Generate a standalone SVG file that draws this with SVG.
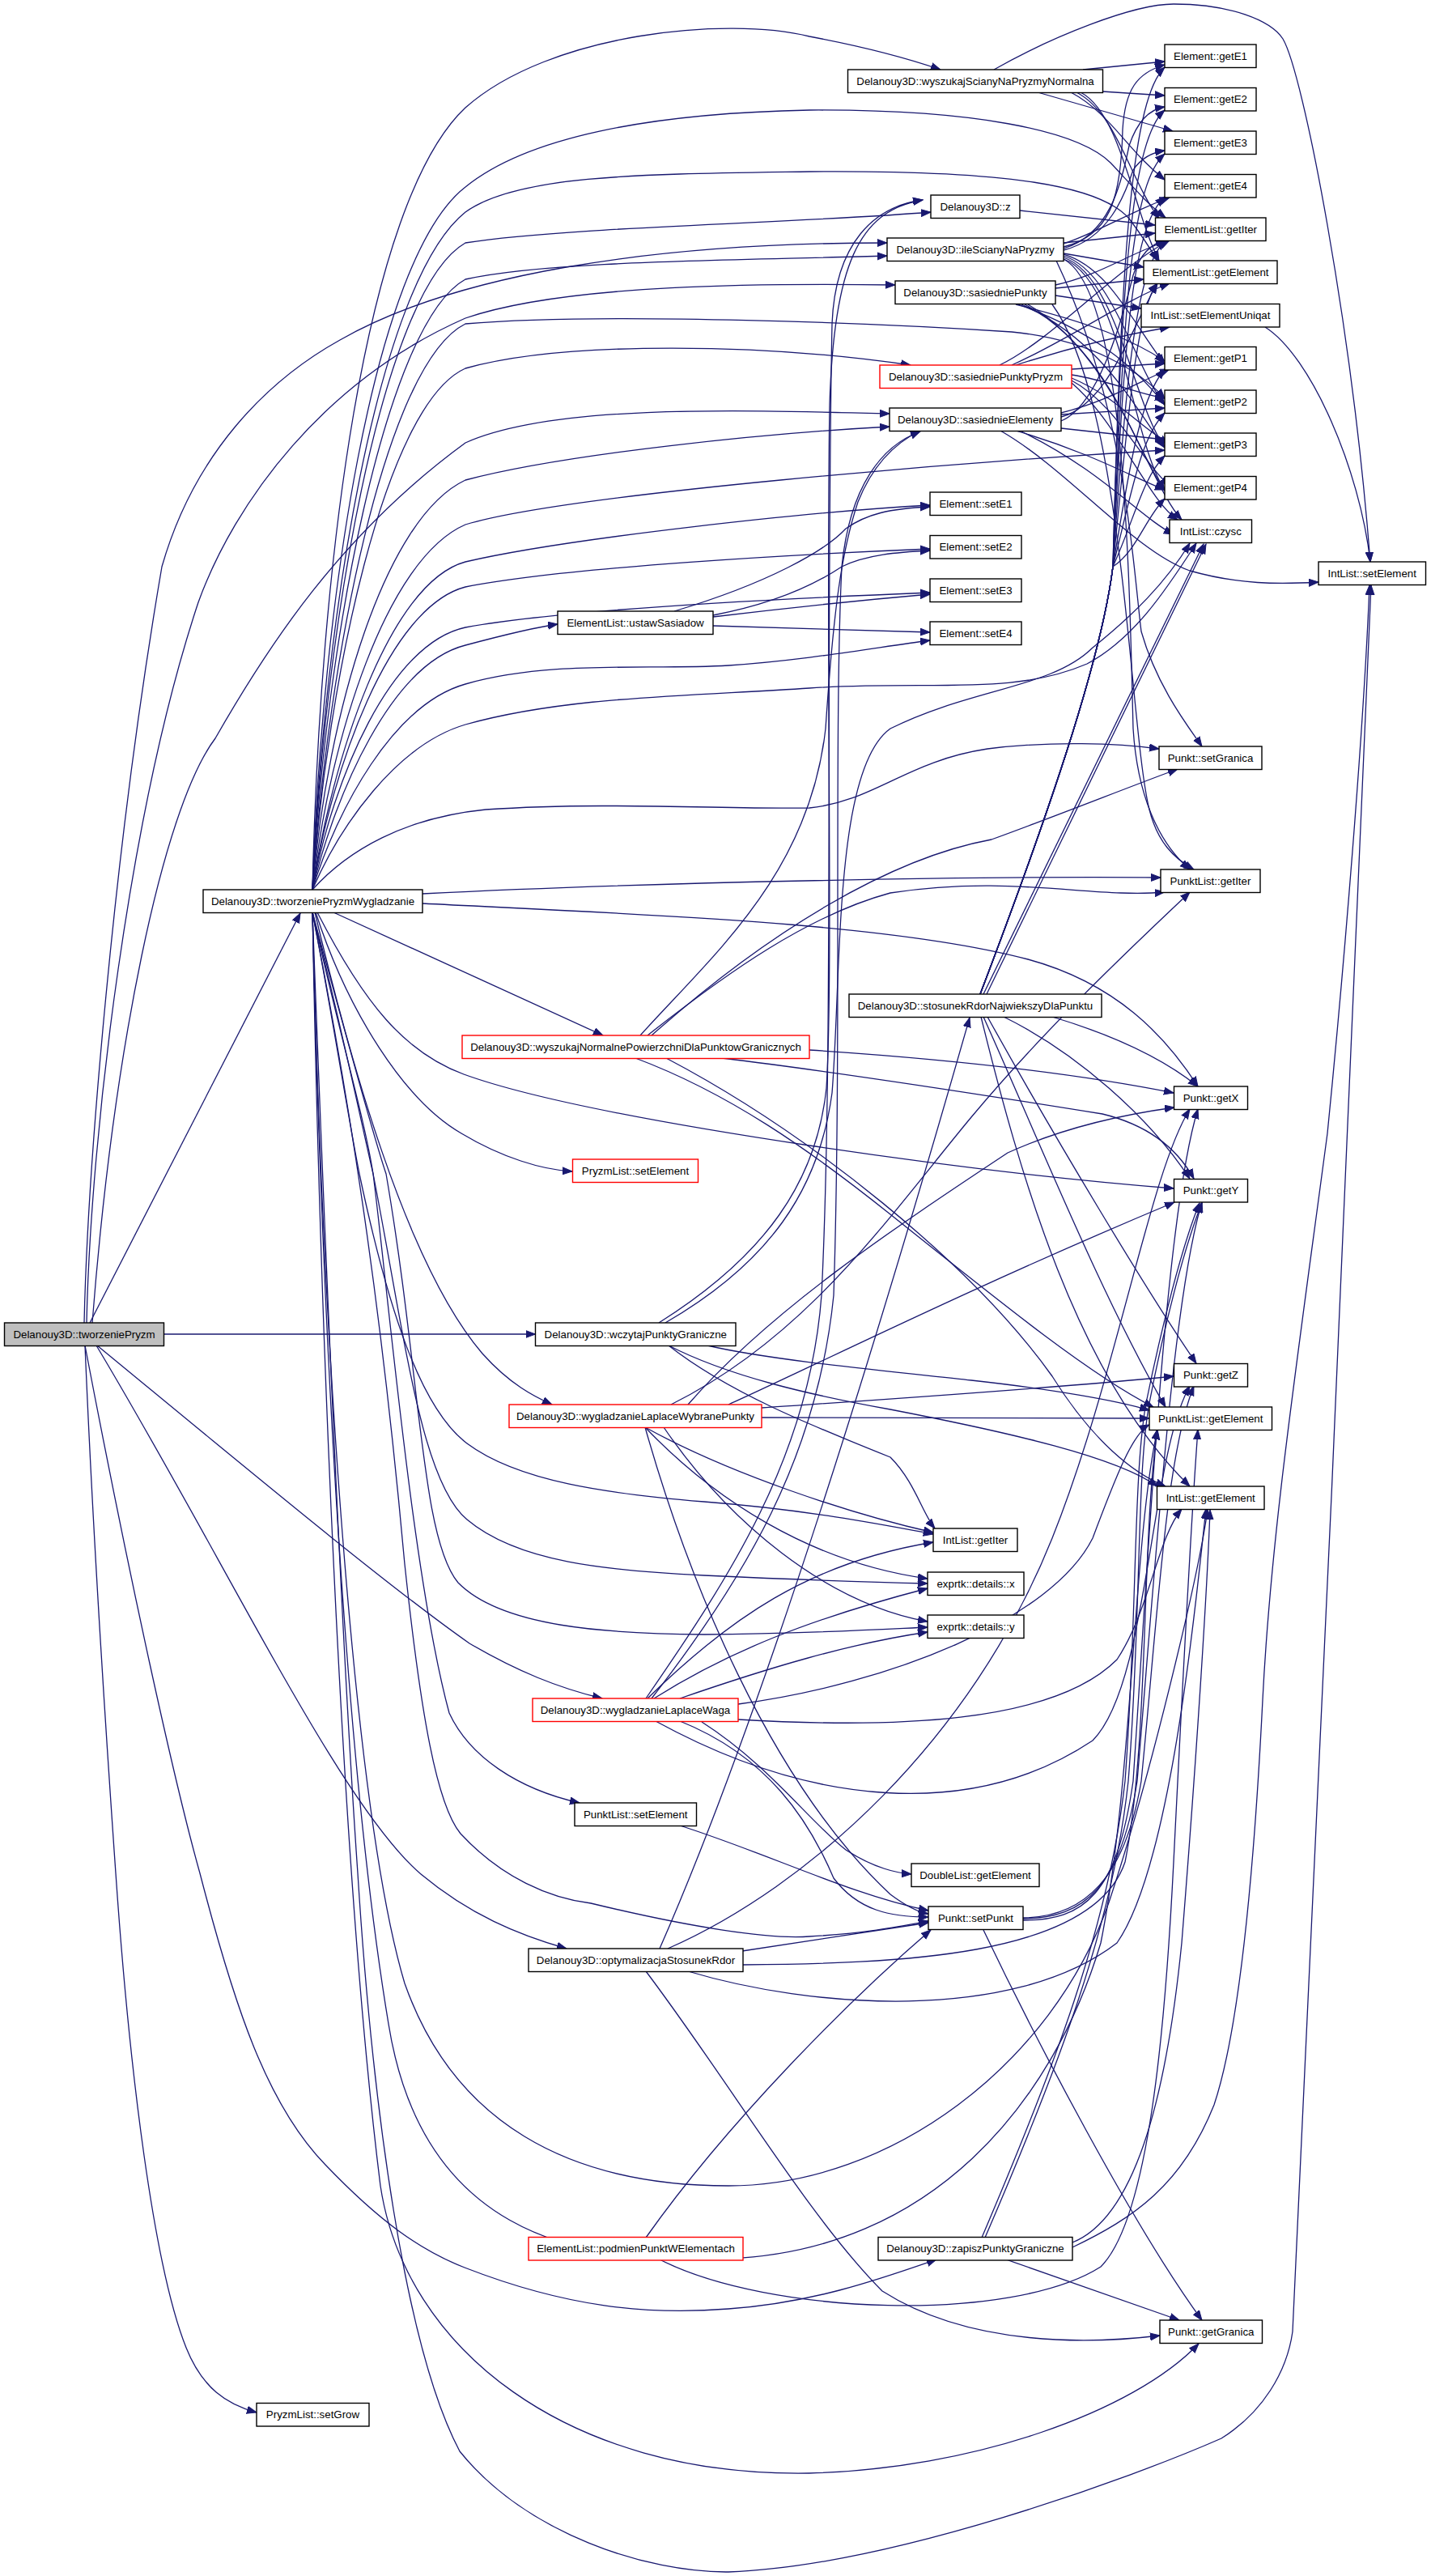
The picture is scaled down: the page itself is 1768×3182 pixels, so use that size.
<svg xmlns="http://www.w3.org/2000/svg" width="1768" height="3182" viewBox="0 0 1768 3182">
<defs>
<marker id="a" markerWidth="14" markerHeight="11" refX="12" refY="5" orient="auto" markerUnits="userSpaceOnUse"><path d="M0,0.5 L12,5 L0,9.5 z" fill="#191970" stroke="#191970" stroke-width="1"/></marker>
<style>
.e{fill:none;stroke:#191970;stroke-width:1.3;marker-end:url(#a)}
.b{fill:#fff;stroke:#000;stroke-width:1.4}
.r{fill:#fff;stroke:#ff0000;stroke-width:1.4}
.g{fill:#bfbfbf;stroke:#000;stroke-width:1.4}
text{font-family:"Liberation Sans",Arial,sans-serif;font-size:13.3px;text-anchor:middle;fill:#000}
</style>
</defs>
<rect width="1768" height="3182" fill="#fff"/>
<g id="edges">
<!-- root -->
<path class="e" d="M111,1634 L371,1128"/>
<path class="e" d="M104,1634 C108,1450 140,1050 200,700 C240,560 330,470 420,420 C560,340 800,300 1096,300"/>
<path class="e" d="M107,1634 C112,1400 160,1000 245,744 C290,620 400,470 575,393 C700,350 950,350 1106,352"/>
<path class="e" d="M114,1634 C140,1300 200,1000 266,912 C330,800 420,660 575,547 C680,500 900,506 1099,511"/>
<path class="e" d="M202.5,1648 L661.5,1648"/>
<path class="e" d="M120,1662 C300,1810 480,1960 580,2030 C640,2065 690,2085 744,2098"/>
<path class="e" d="M119,1662 C280,1930 420,2230 520,2315 C580,2365 640,2390 700,2407"/>
<path class="e" d="M105,1662 C160,1950 215,2200 247,2314 C290,2480 330,2600 402,2674 C470,2745 520,2780 574,2801 C700,2850 800,2860 900,2852 C1000,2845 1080,2818 1157,2791"/>
<path class="e" d="M105,1662 C115,1900 135,2200 143,2314 C160,2560 190,2800 230,2900 C250,2950 280,2970 317,2980"/>
<!-- W up -->
<path class="e" d="M386,1099 C395,700 450,250 575,133 C680,40 900,20 1000,45 C1080,60 1130,75 1162,86"/>
<path class="e" d="M386,1099 C398,750 460,320 575,231 C650,170 800,140 1000,136 C1200,135 1330,160 1372,201 C1395,225 1415,250 1440,269"/>
<path class="e" d="M386,1099 C400,770 465,350 575,262 C640,215 800,215 1000,212 C1250,210 1360,230 1395,270 C1410,290 1420,305 1430,322"/>
<path class="e" d="M386,1099 C400,790 470,360 575,300 C700,280 1000,275 1150,262"/>
<path class="e" d="M386,1099 C402,800 475,400 575,345 C680,322 900,322 1096,316"/>
<path class="e" d="M386,1099 C405,820 475,450 575,400 C750,385 1100,400 1250,410 C1350,420 1410,460 1439,492"/>
<path class="e" d="M386,1099 C405,840 475,500 575,455 C700,420 950,425 1125,451"/>
<path class="e" d="M386,1099 C405,880 475,640 575,593 C700,560 950,535 1099,527"/>
<path class="e" d="M386,1099 C408,910 478,690 575,648 C700,610 1200,570 1439,556"/>
<path class="e" d="M386,1099 C410,940 480,720 575,694 C700,665 1000,632 1149,624"/>
<path class="e" d="M386,1099 C410,950 480,750 575,725 C700,700 1000,684 1149,678"/>
<path class="e" d="M386,1099 C412,960 482,795 575,775 C700,752 1000,738 1149,732"/>
<path class="e" d="M386,1099 C414,980 484,820 575,797 C620,785 660,775 689,771"/>
<path class="e" d="M386,1099 C416,1000 486,870 575,845 C680,815 800,828 900,822 C1000,815 1080,800 1149,791"/>
<path class="e" d="M386,1099 C420,1020 490,920 575,895 C700,860 850,860 1000,850 C1150,840 1250,860 1343,820 C1400,790 1440,730 1478,671"/>
<path class="e" d="M386,1099 C430,1050 500,1010 600,1000 C750,990 900,1000 1000,998 C1080,990 1120,940 1220,925 C1300,915 1380,918 1432,925"/>
<!-- W right / down -->
<path class="e" d="M522,1104 C800,1090 1200,1082 1434,1084"/>
<path class="e" d="M522,1116 C800,1130 1100,1140 1270,1185 C1380,1215 1440,1280 1480,1342"/>
<path class="e" d="M412,1127 L745,1279"/>
<path class="e" d="M390,1127 C430,1250 500,1360 570,1400 C620,1430 670,1445 707,1447"/>
<path class="e" d="M392,1127 C450,1240 500,1300 573,1327 C650,1355 800,1385 1000,1415 C1200,1445 1350,1460 1450,1468"/>
<path class="e" d="M389,1127 C430,1300 500,1560 596,1672 C630,1710 660,1725 682,1735"/>
<path class="e" d="M386,1127 C410,1250 430,1380 444,1450 C480,1620 520,1740 577,1783 C640,1830 750,1845 870,1855 C1000,1865 1100,1885 1153,1895"/>
<path class="e" d="M386,1127 C420,1260 445,1380 461,1450 C500,1650 520,1830 577,1877 C640,1930 750,1940 870,1946 C1000,1952 1100,1955 1146,1956"/>
<path class="e" d="M386,1127 C425,1270 460,1400 477,1450 C520,1700 520,1900 566,1955 C620,2010 750,2018 870,2019 C1000,2018 1100,2012 1146,2010"/>
<path class="e" d="M386,1127 C420,1280 450,1380 461,1450 C480,1600 510,1950 555,2116 C580,2170 640,2210 716,2227"/>
<path class="e" d="M386,1127 C430,1350 470,1600 500,1932 C520,2120 540,2230 569,2265 C620,2320 680,2345 730,2351 C850,2380 950,2396 1000,2392 C1070,2388 1110,2380 1147,2373"/>
<path class="e" d="M386,1127 C400,1500 420,2000 442,2314 C460,2600 500,2900 568,3028 C650,3130 800,3178 900,3177 C1100,3170 1400,3060 1509,3012 C1560,2980 1590,2930 1597,2880 C1620,2400 1680,1100 1694,723"/>
<path class="e" d="M386,1127 C395,1600 420,2300 470,2700 C500,2900 700,3060 1000,3055 C1200,3050 1400,2980 1481,2895"/>
<path class="e" d="M386,1127 C400,1700 430,2200 480,2500 C520,2750 700,2800 900,2790 C1150,2780 1300,2600 1360,2400 C1400,2200 1400,1900 1430,1766"/>
<path class="e" d="M386,1127 C400,1700 440,2250 500,2450 C560,2620 700,2700 900,2700 C1100,2700 1300,2550 1370,2350 C1420,2200 1480,1950 1492,1865"/>
<!-- S -->
<path class="e" d="M1338,86 L1439,76"/>
<path class="e" d="M1362,113 L1439,118"/>
<path class="e" d="M1282,114 L1449,162"/>
<path class="e" d="M1323,114 C1372,140 1392,185 1439,222"/>
<path class="e" d="M1330,114 C1380,140 1395,220 1432,270"/>
<path class="e" d="M1335,114 C1385,140 1400,260 1432,322"/>
<path class="e" d="M1228,86 C1300,45 1400,5 1450,5 C1520,5 1570,25 1585,48 C1610,90 1670,400 1693,694"/>
<!-- z -->
<path class="e" d="M1260,260 L1427,278"/>
<!-- I -->
<path class="e" d="M1314,305 C1370,290 1385,250 1387,160 C1390,110 1405,90 1439,80"/>
<path class="e" d="M1314,307 C1370,290 1385,230 1395,180 C1405,150 1420,135 1439,132"/>
<path class="e" d="M1314,309 C1370,295 1390,240 1400,210 C1410,195 1425,188 1439,186"/>
<path class="e" d="M1314,301 C1350,290 1400,260 1445,244"/>
<path class="e" d="M1314,300 L1427,288"/>
<path class="e" d="M1314,313 L1413,330"/>
<path class="e" d="M1314,314 C1370,330 1400,400 1439,450"/>
<path class="e" d="M1314,316 C1375,335 1400,450 1439,500"/>
<path class="e" d="M1314,318 C1380,340 1400,500 1439,552"/>
<path class="e" d="M1314,320 C1385,345 1400,550 1439,605"/>
<path class="e" d="M1314,320 C1390,360 1395,700 1400,900 C1405,980 1430,1040 1470,1074"/>
<path class="e" d="M1305,322 C1390,500 1400,700 1410,780 C1430,850 1470,900 1485,922"/>
<!-- SP -->
<path class="e" d="M1304,352 C1360,340 1400,310 1445,297"/>
<path class="e" d="M1304,356 L1413,345"/>
<path class="e" d="M1304,365 L1410,381"/>
<path class="e" d="M1255,376 C1350,400 1400,420 1439,446"/>
<path class="e" d="M1258,376 C1350,410 1400,450 1439,500"/>
<path class="e" d="M1262,376 C1360,420 1400,500 1439,553"/>
<path class="e" d="M1266,376 C1370,430 1405,560 1439,606"/>
<path class="e" d="M1270,376 C1380,440 1420,600 1460,642"/>
<path class="e" d="M1300,376 C1390,500 1395,900 1420,1000 C1430,1040 1450,1060 1475,1074"/>
<!-- SPP -->
<path class="e" d="M1235,451 C1300,420 1380,330 1445,297"/>
<path class="e" d="M1250,451 C1320,420 1390,370 1445,350"/>
<path class="e" d="M1255,451 C1320,430 1380,415 1445,404"/>
<path class="e" d="M1324,456 L1439,449"/>
<path class="e" d="M1324,463 C1370,470 1400,485 1439,492"/>
<path class="e" d="M1324,467 C1380,490 1410,530 1445,548"/>
<path class="e" d="M1324,470 C1380,500 1410,570 1445,600"/>
<path class="e" d="M1324,473 C1380,520 1420,620 1455,642"/>
<!-- SE -->
<path class="e" d="M1311,520 C1360,500 1390,380 1400,340 C1410,310 1425,300 1440,297"/>
<path class="e" d="M1311,515 C1370,500 1400,400 1430,350"/>
<path class="e" d="M1311,510 C1370,495 1410,470 1445,456"/>
<path class="e" d="M1311,512 L1439,504"/>
<path class="e" d="M1311,529 L1439,543"/>
<path class="e" d="M1255,532 C1350,560 1400,590 1439,605"/>
<path class="e" d="M1260,532 C1360,580 1410,640 1450,660"/>
<path class="e" d="M1236,532 C1320,580 1400,680 1470,705 C1530,722 1580,722 1629,719"/>
<!-- SEU -->
<path class="e" d="M1563,404 C1620,440 1680,580 1693,694"/>
<!-- U -->
<path class="e" d="M833,755 C950,720 1020,680 1045,653 C1070,635 1100,628 1149,626"/>
<path class="e" d="M881,760 C960,745 1010,720 1040,700 C1070,685 1110,682 1149,680"/>
<path class="e" d="M881,762 C980,750 1080,740 1149,734"/>
<path class="e" d="M881,773 L1149,781"/>
<!-- ST -->
<path class="e" d="M1211,1228 C1290,1020 1360,820 1375,700 C1385,300 1400,120 1439,83"/>
<path class="e" d="M1211,1228 C1290,1020 1360,820 1375,700 C1385,330 1400,170 1439,136"/>
<path class="e" d="M1211,1228 C1290,1020 1360,820 1375,700 C1388,360 1400,225 1439,190"/>
<path class="e" d="M1211,1228 C1290,1020 1360,820 1375,700 C1390,400 1400,280 1439,243"/>
<path class="e" d="M1211,1228 C1290,1020 1360,820 1375,700 C1392,450 1405,330 1440,297"/>
<path class="e" d="M1211,1228 C1290,1020 1360,820 1375,700 C1395,500 1405,380 1430,350"/>
<path class="e" d="M1211,1228 C1290,1020 1360,820 1375,700 C1398,560 1410,490 1439,456"/>
<path class="e" d="M1211,1228 C1290,1020 1360,820 1375,700 C1400,600 1410,540 1439,510"/>
<path class="e" d="M1211,1228 C1290,1020 1360,820 1375,700 C1402,640 1412,590 1439,563"/>
<path class="e" d="M1211,1228 C1290,1020 1360,820 1375,700 C1405,680 1415,640 1439,616"/>
<path class="e" d="M1215,1228 L1487,672"/>
<path class="e" d="M1219,1228 L1490,672"/>
<path class="e" d="M1300,1256 C1380,1280 1440,1310 1480,1342"/>
<path class="e" d="M1240,1256 C1330,1300 1420,1380 1470,1456"/>
<path class="e" d="M1220,1256 C1300,1400 1420,1600 1478,1684"/>
<path class="e" d="M1215,1256 C1280,1400 1360,1600 1440,1738"/>
<path class="e" d="M1212,1256 C1260,1450 1330,1700 1470,1836"/>
<!-- WN -->
<path class="e" d="M791,1279 C880,1180 1000,1080 1020,900 C1030,750 1040,680 1060,620 C1080,570 1110,545 1137,532"/>
<path class="e" d="M800,1279 C900,1200 1000,1130 1100,1103 C1250,1080 1350,1110 1439,1102"/>
<path class="e" d="M805,1279 C950,1150 1100,1060 1225,1037 C1300,1010 1400,970 1455,950"/>
<path class="e" d="M1000,1297 C1200,1310 1350,1330 1450,1350"/>
<path class="e" d="M892,1307 C1000,1320 1200,1350 1362,1376 C1420,1390 1455,1420 1475,1456"/>
<path class="e" d="M785,1307 C900,1350 1000,1420 1100,1500 C1250,1620 1350,1700 1425,1738"/>
<path class="e" d="M823,1307 C1000,1400 1200,1560 1300,1700 C1350,1780 1400,1820 1440,1836"/>
<!-- WC -->
<path class="e" d="M814,1634 C946,1551 1009,1459 1021,1344 C1030,1200 1020,800 1025,500 C1030,330 1060,260 1140,247"/>
<path class="e" d="M822,1634 C950,1560 1012,1470 1028,1350 C1040,1200 1030,950 1100,900 C1200,850 1300,850 1350,800 C1400,760 1440,720 1470,671"/>
<path class="e" d="M874,1662 C950,1680 1100,1694 1200,1705 C1300,1716 1380,1730 1420,1742"/>
<path class="e" d="M826,1662 C900,1700 1000,1723 1100,1741 C1250,1770 1380,1800 1430,1836"/>
<path class="e" d="M826,1662 C900,1720 1000,1760 1100,1800 C1130,1830 1140,1870 1155,1888"/>
<!-- WB -->
<path class="e" d="M829,1735 C1000,1650 1100,1500 1200,1380 C1300,1260 1420,1150 1470,1102"/>
<path class="e" d="M941,1739 C1100,1728 1300,1715 1450,1700"/>
<path class="e" d="M941,1751 L1420,1752"/>
<path class="e" d="M797,1763 C900,1820 1050,1870 1153,1893"/>
<path class="e" d="M797,1763 C880,1850 1000,1930 1146,1950"/>
<path class="e" d="M820,1763 C900,1880 1020,1980 1146,2003"/>
<path class="e" d="M797,1763 C850,1950 950,2200 1100,2340 C1120,2355 1135,2362 1147,2364"/>
<path class="e" d="M900,1735 C1000,1690 1200,1590 1451,1485"/>
<path class="e" d="M850,1735 C950,1620 1100,1520 1245,1424 C1320,1390 1400,1375 1451,1368"/>
<!-- WG -->
<path class="e" d="M800,2098 C900,2000 1000,1930 1153,1905"/>
<path class="e" d="M808,2098 C900,2040 1000,2000 1146,1962"/>
<path class="e" d="M840,2098 C950,2060 1050,2030 1146,2016"/>
<path class="e" d="M798,2098 C900,1950 1000,1800 1015,1600 C1030,1300 1020,800 1028,400 C1032,300 1080,255 1140,247"/>
<path class="e" d="M805,2098 C920,1950 1010,1800 1030,1600 C1040,1300 1030,900 1040,700 C1050,600 1090,550 1137,533"/>
<path class="e" d="M912,2105 C1100,2080 1300,2000 1350,1900 C1380,1820 1400,1770 1420,1760"/>
<path class="e" d="M912,2124 C1100,2135 1300,2130 1380,2050 C1420,1990 1430,1900 1460,1864"/>
<path class="e" d="M840,2126 C950,2170 1000,2250 1030,2320 C1060,2360 1100,2368 1147,2368"/>
<path class="e" d="M867,2127 C950,2180 1000,2250 1045,2285 C1080,2308 1110,2314 1126,2315"/>
<path class="e" d="M810,2126 C1000,2230 1200,2250 1350,2150 C1420,2080 1420,1800 1470,1712"/>
<!-- PLS -->
<path class="e" d="M840,2255 C950,2290 1050,2340 1147,2360"/>
<!-- PSP -->
<path class="e" d="M1264,2372 C1340,2372 1380,2340 1400,2200 C1420,1900 1440,1500 1480,1370"/>
<path class="e" d="M1264,2370 C1340,2370 1385,2330 1405,2200 C1430,1900 1450,1600 1485,1485"/>
<path class="e" d="M1264,2369 C1340,2368 1390,2320 1410,2200 C1430,2000 1440,1800 1475,1712"/>
<path class="e" d="M1215,2384 C1280,2520 1400,2750 1485,2866"/>
<!-- OPT -->
<path class="e" d="M815,2407 C950,2100 1100,1600 1198,1257"/>
<path class="e" d="M917,2410 L1147,2375"/>
<path class="e" d="M918,2427 C1100,2425 1350,2420 1390,2300 C1420,2150 1410,1900 1430,1766"/>
<path class="e" d="M850,2435 C1000,2480 1250,2500 1380,2400 C1450,2300 1480,1950 1490,1864"/>
<path class="e" d="M798,2435 C900,2570 1000,2740 1090,2830 C1200,2900 1350,2895 1433,2885"/>
<path class="e" d="M825,2407 C1000,2330 1200,2150 1300,1900 C1380,1700 1420,1450 1470,1370"/>
<!-- POD -->
<path class="e" d="M798,2764 C900,2620 1050,2470 1150,2384"/>
<path class="e" d="M815,2791 C950,2860 1250,2870 1360,2800 C1420,2740 1440,2500 1450,2300 C1460,2100 1470,1900 1480,1766"/>
<!-- ZAP -->
<path class="e" d="M1213,2764 C1300,2560 1370,2380 1390,2200 C1405,2000 1400,1820 1416,1733 C1435,1640 1460,1540 1482,1486"/>
<path class="e" d="M1217,2764 C1305,2560 1375,2380 1394,2200 C1410,2000 1404,1820 1420,1733 C1438,1640 1463,1540 1485,1486"/>
<path class="e" d="M1325,2770 C1400,2740 1440,2600 1460,2400 C1480,2150 1492,1950 1495,1865"/>
<path class="e" d="M1325,2776 C1400,2740 1460,2700 1500,2600 C1540,2480 1555,2200 1560,2100 C1570,1900 1600,1700 1640,1400 C1660,1200 1685,900 1692,723"/>
<path class="e" d="M1243,2791 L1457,2866"/>
</g>
<g id="n_root"><rect class="g" x="5.5" y="1634" width="197" height="28.5"/><text x="104" y="1652.8">Delanouy3D::tworzeniePryzm</text></g>
<g id="n_W"><rect class="b" x="251" y="1099" width="271" height="28.5"/><text x="386.5" y="1117.8">Delanouy3D::tworzeniePryzmWygladzanie</text></g>
<g id="n_S"><rect class="b" x="1047.5" y="86" width="315" height="28.5"/><text x="1205" y="104.8">Delanouy3D::wyszukajScianyNaPryzmyNormalna</text></g>
<g id="n_E1"><rect class="b" x="1439" y="55" width="113" height="28.5"/><text x="1495.5" y="73.8">Element::getE1</text></g>
<g id="n_E2"><rect class="b" x="1439" y="108.5" width="113" height="28.5"/><text x="1495.5" y="127.3">Element::getE2</text></g>
<g id="n_E3"><rect class="b" x="1439" y="162" width="113" height="28.5"/><text x="1495.5" y="180.8">Element::getE3</text></g>
<g id="n_E4"><rect class="b" x="1439" y="215.5" width="113" height="28.5"/><text x="1495.5" y="234.3">Element::getE4</text></g>
<g id="n_LGI"><rect class="b" x="1427.5" y="269" width="136.5" height="28.5"/><text x="1495.75" y="287.8">ElementList::getIter</text></g>
<g id="n_LGE"><rect class="b" x="1413" y="322" width="165" height="28.5"/><text x="1495.5" y="340.8">ElementList::getElement</text></g>
<g id="n_SEU"><rect class="b" x="1410" y="375.5" width="171" height="28.5"/><text x="1495.5" y="394.3">IntList::setElementUniqat</text></g>
<g id="n_P1"><rect class="b" x="1439" y="428.5" width="113" height="28.5"/><text x="1495.5" y="447.3">Element::getP1</text></g>
<g id="n_P2"><rect class="b" x="1439" y="482" width="113" height="28.5"/><text x="1495.5" y="500.8">Element::getP2</text></g>
<g id="n_P3"><rect class="b" x="1439" y="535" width="113" height="28.5"/><text x="1495.5" y="553.8">Element::getP3</text></g>
<g id="n_P4"><rect class="b" x="1439" y="588.5" width="113" height="28.5"/><text x="1495.5" y="607.3">Element::getP4</text></g>
<g id="n_CZ"><rect class="b" x="1445" y="642" width="101.5" height="28.5"/><text x="1495.75" y="660.8">IntList::czysc</text></g>
<g id="n_ISE"><rect class="b" x="1629" y="694" width="132.5" height="28.5"/><text x="1695.25" y="712.8">IntList::setElement</text></g>
<g id="n_Z"><rect class="b" x="1150" y="241" width="110" height="28.5"/><text x="1205" y="259.8">Delanouy3D::z</text></g>
<g id="n_I"><rect class="b" x="1096" y="294" width="218" height="28.5"/><text x="1205" y="312.8">Delanouy3D::ileScianyNaPryzmy</text></g>
<g id="n_SP"><rect class="b" x="1106" y="347" width="198" height="28.5"/><text x="1205" y="365.8">Delanouy3D::sasiedniePunkty</text></g>
<g id="n_SPP"><rect class="r" x="1087" y="451" width="237" height="28.5"/><text x="1205.5" y="469.8">Delanouy3D::sasiedniePunktyPryzm</text></g>
<g id="n_SE"><rect class="b" x="1099" y="504" width="212" height="28.5"/><text x="1205" y="522.8">Delanouy3D::sasiednieElementy</text></g>
<g id="n_SE1"><rect class="b" x="1149" y="608" width="113" height="28.5"/><text x="1205.5" y="626.8">Element::setE1</text></g>
<g id="n_SE2"><rect class="b" x="1149" y="661.5" width="113" height="28.5"/><text x="1205.5" y="680.3">Element::setE2</text></g>
<g id="n_SE3"><rect class="b" x="1149" y="715" width="113" height="28.5"/><text x="1205.5" y="733.8">Element::setE3</text></g>
<g id="n_SE4"><rect class="b" x="1149" y="768" width="113" height="28.5"/><text x="1205.5" y="786.8">Element::setE4</text></g>
<g id="n_U"><rect class="b" x="689" y="755" width="192" height="28.5"/><text x="785" y="773.8">ElementList::ustawSasiadow</text></g>
<g id="n_SG"><rect class="b" x="1432" y="922" width="127" height="28.5"/><text x="1495.5" y="940.8">Punkt::setGranica</text></g>
<g id="n_PGI"><rect class="b" x="1434" y="1074" width="123" height="28.5"/><text x="1495.5" y="1092.8">PunktList::getIter</text></g>
<g id="n_ST"><rect class="b" x="1049" y="1228" width="312" height="28.5"/><text x="1205" y="1246.8">Delanouy3D::stosunekRdorNajwiekszyDlaPunktu</text></g>
<g id="n_WN"><rect class="r" x="571" y="1279" width="429" height="28.5"/><text x="785.5" y="1297.8">Delanouy3D::wyszukajNormalnePowierzchniDlaPunktowGranicznych</text></g>
<g id="n_GX"><rect class="b" x="1450.5" y="1342" width="91" height="28.5"/><text x="1496" y="1360.8">Punkt::getX</text></g>
<g id="n_GY"><rect class="b" x="1450.5" y="1456.5" width="91" height="28.5"/><text x="1496" y="1475.3">Punkt::getY</text></g>
<g id="n_PSE"><rect class="r" x="707.5" y="1432" width="155" height="28.5"/><text x="785" y="1450.8">PryzmList::setElement</text></g>
<g id="n_WC"><rect class="b" x="661.5" y="1634" width="247.5" height="28.5"/><text x="785.25" y="1652.8">Delanouy3D::wczytajPunktyGraniczne</text></g>
<g id="n_GZ"><rect class="b" x="1450.5" y="1684.5" width="91" height="28.5"/><text x="1496" y="1703.3">Punkt::getZ</text></g>
<g id="n_WB"><rect class="r" x="629" y="1735" width="312" height="28.5"/><text x="785" y="1753.8">Delanouy3D::wygladzanieLaplaceWybranePunkty</text></g>
<g id="n_PGE"><rect class="b" x="1420" y="1738" width="151.5" height="28.5"/><text x="1495.75" y="1756.8">PunktList::getElement</text></g>
<g id="n_IGE"><rect class="b" x="1429.5" y="1836" width="132.5" height="28.5"/><text x="1495.75" y="1854.8">IntList::getElement</text></g>
<g id="n_IGI"><rect class="b" x="1153" y="1888" width="104" height="28.5"/><text x="1205" y="1906.8">IntList::getIter</text></g>
<g id="n_EX"><rect class="b" x="1146" y="1942" width="119" height="28.5"/><text x="1205.5" y="1960.8">exprtk::details::x</text></g>
<g id="n_EY"><rect class="b" x="1146" y="1995" width="119" height="28.5"/><text x="1205.5" y="2013.8">exprtk::details::y</text></g>
<g id="n_WG"><rect class="r" x="658" y="2098" width="254" height="28.5"/><text x="785" y="2116.8">Delanouy3D::wygladzanieLaplaceWaga</text></g>
<g id="n_PLS"><rect class="b" x="710" y="2227" width="150.5" height="28.5"/><text x="785.25" y="2245.8">PunktList::setElement</text></g>
<g id="n_DGE"><rect class="b" x="1126" y="2302" width="158" height="28.5"/><text x="1205" y="2320.8">DoubleList::getElement</text></g>
<g id="n_PSP"><rect class="b" x="1147" y="2355" width="117" height="28.5"/><text x="1205.5" y="2373.8">Punkt::setPunkt</text></g>
<g id="n_OPT"><rect class="b" x="653" y="2407" width="265" height="28.5"/><text x="785.5" y="2425.8">Delanouy3D::optymalizacjaStosunekRdor</text></g>
<g id="n_POD"><rect class="r" x="653" y="2763.5" width="265" height="28.5"/><text x="785.5" y="2782.3">ElementList::podmienPunktWElementach</text></g>
<g id="n_ZAP"><rect class="b" x="1085" y="2763.5" width="240" height="28.5"/><text x="1205" y="2782.3">Delanouy3D::zapiszPunktyGraniczne</text></g>
<g id="n_GG"><rect class="b" x="1433" y="2866" width="126.5" height="28.5"/><text x="1496.25" y="2884.8">Punkt::getGranica</text></g>
<g id="n_SGR"><rect class="b" x="317" y="2968.5" width="139" height="28.5"/><text x="386.5" y="2987.3">PryzmList::setGrow</text></g>
</svg>
